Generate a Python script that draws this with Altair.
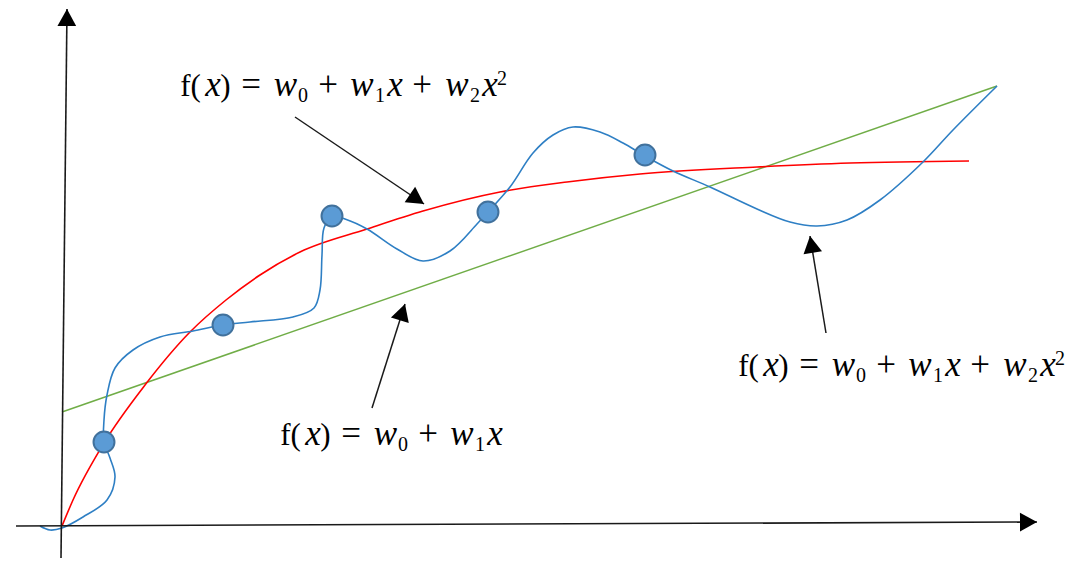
import math
import altair as alt
import pandas as pd

# ---- data (diagram units = picture pixels, y grows downward) ----
blue_x = [40, 50, 62, 83, 107, 115, 110, 104, 104, 107, 115, 133, 160, 193, 223, 250, 293, 314, 320, 322, 324,
          332, 345, 367, 397, 423, 450, 477, 488, 510, 533, 553, 573, 600, 623, 645, 673, 710, 757, 790, 817,
          847, 880, 923, 953, 997]
blue_y = [526, 530, 528, 517, 500, 477, 458, 442, 420, 395, 368, 350, 337, 331, 325, 322, 317, 308, 290, 255, 228,
          216, 219, 229, 249, 261, 251, 224, 212, 187, 153, 135, 127, 132, 143, 156, 171, 187, 209, 222, 226,
          220, 200, 162, 130, 86]

red_x = [62, 73, 104, 145, 190, 226, 260, 300, 367, 423, 500, 567, 640, 757, 850, 969]
red_y = [526, 500, 443, 385, 332, 300, 275, 252, 229, 211, 192, 182, 174, 167, 163, 161]

green_x = [62, 997]
green_y = [412, 86]

pts_x = [104, 223, 332, 488, 645]
pts_y = [442, 325, 216, 212, 155]

# arrows: axes first, then the three pointers
arr_x0 = [61, 16, 295, 372, 826]
arr_y0 = [558, 526, 117, 408, 333]
arr_x1 = [67, 1037, 424, 405, 810]
arr_y1 = [9, 522, 204, 304, 236]
arr_w = [1.6, 1.6, 1.5, 1.5, 1.5]

# formula labels: which formula, left edge and baseline
label_kind = ["quad", "lin", "quad"]
label_x = [179, 279, 737]
label_y = [96, 445, 376]

# ---- text layout (glyph pieces: text, style, centre offset from label's left edge) ----
QUAD = [("f(", "up", 11.5), ("x", "it", 34), (")", "up", 46.5), ("=", "op", 72),
        ("w", "it", 106.5), ("0", "sub", 124), ("+", "op", 149),
        ("w", "it", 183), ("1", "sub", 201), ("x", "it", 216), ("+", "op", 243),
        ("w", "it", 278), ("2", "sub", 296), ("x", "it", 311), ("2", "sup", 323)]
LIN = QUAD[:10]
DY = {"up": 0, "it": 0, "op": 0, "sub": 6, "sup": -11}

rows = []
for kind, x0, y0 in zip(label_kind, label_x, label_y):
    for t, s, off in (QUAD if kind == "quad" else LIN):
        rows.append({"x": x0 + off, "y": y0 + DY[s], "t": t, "s": s})
text_df = pd.DataFrame(rows)

# ---- chart ----
XS = alt.Scale(domain=[8, 1072], nice=False, zero=False)
YS = alt.Scale(domain=[8, 560], nice=False, zero=False, reverse=True)


def enc_xy(xf="x", yf="y"):
    return dict(x=alt.X(f"{xf}:Q", scale=XS, axis=None), y=alt.Y(f"{yf}:Q", scale=YS, axis=None))


def curve(xs, ys, color, width, interp):
    df = pd.DataFrame({"x": xs, "y": ys, "o": list(range(len(xs)))})
    return alt.Chart(df).mark_line(color=color, strokeWidth=width, interpolate=interp).encode(
        order="o:Q", **enc_xy())


green = curve(green_x, green_y, "#70AD47", 1.5, "linear")
red = curve(red_x, red_y, "#FF0000", 1.6, "monotone")
blue = curve(blue_x, blue_y, "#2E7FC4", 1.6, "catmull-rom")

pts = alt.Chart(pd.DataFrame({"x": pts_x, "y": pts_y})).mark_point(
    shape="circle", filled=True, size=440, fill="#5B9BD5", stroke="#41719C", strokeWidth=2, opacity=1
).encode(**enc_xy())

arr_df = pd.DataFrame({"x0": arr_x0, "y0": arr_y0, "x1": arr_x1, "y1": arr_y1, "w": arr_w})
arr_df["ang"] = [
    (math.degrees(math.atan2(x1 - x0, -(y1 - y0))) + 360) % 360
    for x0, y0, x1, y1 in zip(arr_x0, arr_y0, arr_x1, arr_y1)
]

shafts = alt.Chart(arr_df).mark_rule(color="#1a1a1a").encode(
    x=alt.X("x0:Q", scale=XS, axis=None), y=alt.Y("y0:Q", scale=YS, axis=None),
    x2="x1:Q", y2="y1:Q", strokeWidth=alt.StrokeWidth("w:Q", scale=None))

heads = alt.Chart(arr_df).mark_point(
    shape="M0,0L-0.55,1L0.55,1Z", filled=True, size=1156, color="black", opacity=1
).encode(
    x=alt.X("x1:Q", scale=XS, axis=None), y=alt.Y("y1:Q", scale=YS, axis=None),
    angle=alt.Angle("ang:Q", scale=None))


def text_layer(style, size, italic=False):
    kw = dict(align="center", baseline="alphabetic", font="Liberation Serif", fontSize=size, color="black")
    if italic:
        kw["fontStyle"] = "italic"
    return alt.Chart(text_df).transform_filter(alt.datum.s == style).mark_text(**kw).encode(
        text="t:N", **enc_xy())


texts = [
    text_layer("up", 31),
    text_layer("it", 35, italic=True),
    text_layer("op", 35),
    text_layer("sub", 20),
    text_layer("sup", 20),
]

chart = alt.layer(green, red, blue, shafts, heads, pts, *texts).properties(
    width=1064, height=552, padding=0, background="white"
).configure_view(stroke=None)

chart.save("out.html", embed_options={"renderer": "svg", "actions": False})
